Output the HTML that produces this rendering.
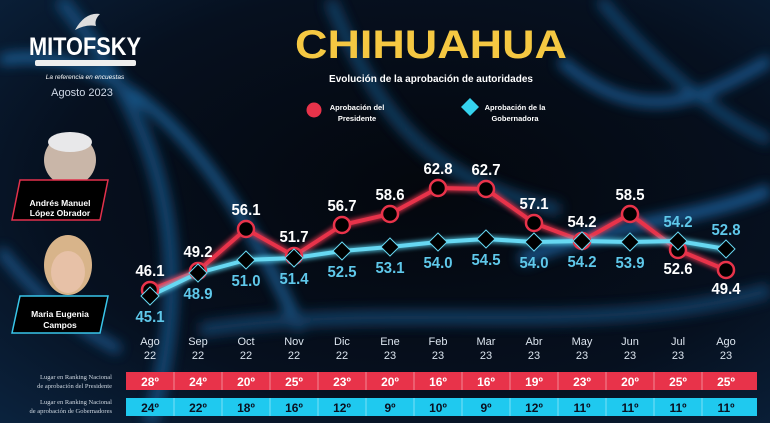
<!DOCTYPE html>
<html><head><meta charset="utf-8"><style>
html,body{margin:0;padding:0;background:#050a14;}
svg{display:block;font-family:"Liberation Sans",sans-serif;}
</style></head><body>
<svg width="770" height="423" viewBox="0 0 770 423" xmlns="http://www.w3.org/2000/svg">
<defs>
<radialGradient id="bg" cx="0.55" cy="0.45" r="0.8">
<stop offset="0" stop-color="#04070d"/><stop offset="0.6" stop-color="#06101f"/><stop offset="1" stop-color="#0b2440"/>
</radialGradient>
<filter id="blur"><feGaussianBlur stdDeviation="6"/></filter>
<filter id="glow"><feGaussianBlur stdDeviation="2"/></filter>
</defs>
<rect width="770" height="423" fill="url(#bg)"/>
<g filter="url(#blur)" fill="none" opacity="0.9">
<path d="M0 60 C120 40 220 150 300 330" stroke="#1f67a3" stroke-width="10"/>
<path d="M60 0 C160 120 200 250 150 423" stroke="#17507f" stroke-width="14"/>
<path d="M330 0 C380 120 430 180 560 210" stroke="#154670" stroke-width="12"/>
<path d="M560 60 C640 130 700 100 770 60" stroke="#1d64a0" stroke-width="10"/>
<path d="M520 260 C620 220 700 220 770 190" stroke="#1d64a0" stroke-width="12"/>
<path d="M200 330 C400 300 600 340 770 290" stroke="#15426a" stroke-width="14"/>
<path d="M0 250 C40 300 80 330 120 350" stroke="#1d5a90" stroke-width="10"/>
<path d="M600 0 C650 60 720 120 770 140" stroke="#17507f" stroke-width="10"/>
</g>
<!-- logo -->
<text x="85" y="55" text-anchor="middle" fill="#fff" font-size="25" font-weight="bold" textLength="112" lengthAdjust="spacingAndGlyphs">MITOFSKY</text>
<path d="M75 30 q10 -18 25 -16 q-6 6 -4 12 q-10 -2 -21 4z" fill="#ddd"/>
<rect x="35" y="60" width="101" height="6" rx="2" fill="#eee"/>
<text x="85" y="79" text-anchor="middle" fill="#fff" font-size="6.5" font-style="italic">La referencia en encuestas</text>
<text x="82" y="96" text-anchor="middle" fill="#cfd8e6" font-size="11">Agosto 2023</text>
<!-- title -->
<text x="431" y="58" text-anchor="middle" fill="#f5c842" font-size="40" font-weight="bold" textLength="272" lengthAdjust="spacingAndGlyphs">CHIHUAHUA</text>
<text x="431" y="82" text-anchor="middle" fill="#fff" font-size="10" font-weight="bold">Evolución de la aprobación de autoridades</text>
<circle cx="314" cy="110" r="7.5" fill="#e8334a"/>
<text x="357" y="110" text-anchor="middle" fill="#fff" font-size="7.5" font-weight="bold">Aprobación del</text>
<text x="357" y="121" text-anchor="middle" fill="#fff" font-size="7.5" font-weight="bold">Presidente</text>
<polygon points="470,98 479,107 470,116 461,107" fill="#35d3ee"/>
<text x="515" y="110" text-anchor="middle" fill="#fff" font-size="7.5" font-weight="bold">Aprobación de la</text>
<text x="515" y="121" text-anchor="middle" fill="#fff" font-size="7.5" font-weight="bold">Gobernadora</text>
<!-- photos -->
<circle cx="70" cy="160" r="26" fill="#c9b6a8"/>
<ellipse cx="70" cy="142" rx="22" ry="10" fill="#e8e8ea"/>
<path d="M40 190 q30 -20 60 0 v10 h-60z" fill="#2a2e38"/>
<polygon points="20,180 108,180 100,220 12,220" fill="#000" stroke="#e2314c" stroke-width="1.5"/>
<text x="60" y="206" text-anchor="middle" fill="#fff" font-size="8.5" font-weight="bold">Andrés Manuel</text>
<text x="60" y="216" text-anchor="middle" fill="#fff" font-size="8.5" font-weight="bold">López Obrador</text>
<ellipse cx="68" cy="265" rx="24" ry="30" fill="#d8b48a"/>
<ellipse cx="68" cy="272" rx="17" ry="21" fill="#e7c1a7"/>
<path d="M40 305 q28 -18 56 0 v5 h-56z" fill="#e24a2e"/>
<polygon points="20,296 108,296 100,333 12,333" fill="#000" stroke="#39c6ea" stroke-width="1.5"/>
<text x="60" y="317" text-anchor="middle" fill="#fff" font-size="8.5" font-weight="bold">Maria Eugenia</text>
<text x="60" y="328" text-anchor="middle" fill="#fff" font-size="8.5" font-weight="bold">Campos</text>
<!-- lines -->
<g fill="none" stroke-linejoin="round">
<polyline filter="url(#glow)" stroke="#ff3a55" stroke-width="7" opacity="0.7" points="150,290 198,271 246,229 294,256 342,225 390,214 438,188 486,189 534,223 582,241 630,214 678,250 726,270"/>
<polyline stroke="#e8334a" stroke-width="4" points="150,290 198,271 246,229 294,256 342,225 390,214 438,188 486,189 534,223 582,241 630,214 678,250 726,270"/>
<polyline filter="url(#glow)" stroke="#5be0ff" stroke-width="7" opacity="0.7" points="150,296 198,273 246,260 294,258 342,251 390,247 438,242 486,239 534,242 582,241 630,242 678,241 726,249"/>
<polyline stroke="#67d8f2" stroke-width="4" points="150,296 198,273 246,260 294,258 342,251 390,247 438,242 486,239 534,242 582,241 630,242 678,241 726,249"/>
</g>
<g fill="#000" stroke="#e8334a" stroke-width="2.5">
<circle cx="150" cy="290" r="8"/><circle cx="198" cy="271" r="8"/><circle cx="246" cy="229" r="8"/><circle cx="294" cy="256" r="8"/><circle cx="342" cy="225" r="8"/><circle cx="390" cy="214" r="8"/><circle cx="438" cy="188" r="8"/><circle cx="486" cy="189" r="8"/><circle cx="534" cy="223" r="8"/><circle cx="582" cy="241" r="8"/><circle cx="630" cy="214" r="8"/><circle cx="678" cy="250" r="8"/><circle cx="726" cy="270" r="8"/>
</g>
<g fill="#000" stroke="#67d8f2" stroke-width="1">
<polygon points="150,287 159,296 150,305 141,296"/><polygon points="198,264 207,273 198,282 189,273"/><polygon points="246,251 255,260 246,269 237,260"/><polygon points="294,249 303,258 294,267 285,258"/><polygon points="342,242 351,251 342,260 333,251"/><polygon points="390,238 399,247 390,256 381,247"/><polygon points="438,233 447,242 438,251 429,242"/><polygon points="486,230 495,239 486,248 477,239"/><polygon points="534,233 543,242 534,251 525,242"/><polygon points="582,232 591,241 582,250 573,241"/><polygon points="630,233 639,242 630,251 621,242"/><polygon points="678,232 687,241 678,250 669,241"/><polygon points="726,240 735,249 726,258 717,249"/>
</g>
<g fill="#fff" font-size="16" font-weight="bold" text-anchor="middle" transform="scale(1,1)">
<text x="150" y="276" textLength="29" lengthAdjust="spacingAndGlyphs">46.1</text><text x="198" y="257" textLength="29" lengthAdjust="spacingAndGlyphs">49.2</text><text x="246" y="215" textLength="29" lengthAdjust="spacingAndGlyphs">56.1</text><text x="294" y="242" textLength="29" lengthAdjust="spacingAndGlyphs">51.7</text><text x="342" y="211" textLength="29" lengthAdjust="spacingAndGlyphs">56.7</text><text x="390" y="200" textLength="29" lengthAdjust="spacingAndGlyphs">58.6</text><text x="438" y="174" textLength="29" lengthAdjust="spacingAndGlyphs">62.8</text><text x="486" y="175" textLength="29" lengthAdjust="spacingAndGlyphs">62.7</text><text x="534" y="209" textLength="29" lengthAdjust="spacingAndGlyphs">57.1</text><text x="582" y="227" textLength="29" lengthAdjust="spacingAndGlyphs">54.2</text><text x="630" y="200" textLength="29" lengthAdjust="spacingAndGlyphs">58.5</text><text x="678" y="274" textLength="29" lengthAdjust="spacingAndGlyphs">52.6</text><text x="726" y="294" textLength="29" lengthAdjust="spacingAndGlyphs">49.4</text>
</g>
<g fill="#5fc8ea" font-size="16" font-weight="bold" text-anchor="middle">
<text x="150" y="322" textLength="29" lengthAdjust="spacingAndGlyphs">45.1</text><text x="198" y="299" textLength="29" lengthAdjust="spacingAndGlyphs">48.9</text><text x="246" y="286" textLength="29" lengthAdjust="spacingAndGlyphs">51.0</text><text x="294" y="284" textLength="29" lengthAdjust="spacingAndGlyphs">51.4</text><text x="342" y="277" textLength="29" lengthAdjust="spacingAndGlyphs">52.5</text><text x="390" y="273" textLength="29" lengthAdjust="spacingAndGlyphs">53.1</text><text x="438" y="268" textLength="29" lengthAdjust="spacingAndGlyphs">54.0</text><text x="486" y="265" textLength="29" lengthAdjust="spacingAndGlyphs">54.5</text><text x="534" y="268" textLength="29" lengthAdjust="spacingAndGlyphs">54.0</text><text x="582" y="267" textLength="29" lengthAdjust="spacingAndGlyphs">54.2</text><text x="630" y="268" textLength="29" lengthAdjust="spacingAndGlyphs">53.9</text><text x="678" y="227" textLength="29" lengthAdjust="spacingAndGlyphs">54.2</text><text x="726" y="235" textLength="29" lengthAdjust="spacingAndGlyphs">52.8</text>
</g>
<!-- x labels -->
<g fill="#dbe4ee" font-size="11" text-anchor="middle">
<text x="150" y="345">Ago</text><text x="198" y="345">Sep</text><text x="246" y="345">Oct</text><text x="294" y="345">Nov</text><text x="342" y="345">Dic</text><text x="390" y="345">Ene</text><text x="438" y="345">Feb</text><text x="486" y="345">Mar</text><text x="534" y="345">Abr</text><text x="582" y="345">May</text><text x="630" y="345">Jun</text><text x="678" y="345">Jul</text><text x="726" y="345">Ago</text>
<text x="150" y="359">22</text><text x="198" y="359">22</text><text x="246" y="359">22</text><text x="294" y="359">22</text><text x="342" y="359">22</text><text x="390" y="359">23</text><text x="438" y="359">23</text><text x="486" y="359">23</text><text x="534" y="359">23</text><text x="582" y="359">23</text><text x="630" y="359">23</text><text x="678" y="359">23</text><text x="726" y="359">23</text>
</g>
<g fill="#cfd8e2" font-size="6.5" font-family="Liberation Serif,serif" text-anchor="end">
<text x="112" y="379">Lugar en Ranking Nacional</text><text x="112" y="388">de aprobación del Presidente</text>
<text x="112" y="404">Lugar en Ranking Nacional</text><text x="112" y="413">de aprobación de Gobernadores</text>
</g>
<rect x="126" y="372" width="631" height="18" fill="#e8334a"/>
<rect x="126" y="398" width="631" height="18" fill="#1fc9ef"/>
<g stroke="#fff" stroke-width="0.6" opacity="0.7">
<path d="M174 372v18M222 372v18M270 372v18M318 372v18M366 372v18M414 372v18M462 372v18M510 372v18M558 372v18M606 372v18M654 372v18M702 372v18"/>
<path d="M174 398v18M222 398v18M270 398v18M318 398v18M366 398v18M414 398v18M462 398v18M510 398v18M558 398v18M606 398v18M654 398v18M702 398v18"/>
</g>
<g fill="#fff" font-size="12" font-weight="bold" text-anchor="middle">
<text x="150" y="386">28º</text><text x="198" y="386">24º</text><text x="246" y="386">20º</text><text x="294" y="386">25º</text><text x="342" y="386">23º</text><text x="390" y="386">20º</text><text x="438" y="386">16º</text><text x="486" y="386">16º</text><text x="534" y="386">19º</text><text x="582" y="386">23º</text><text x="630" y="386">20º</text><text x="678" y="386">25º</text><text x="726" y="386">25º</text>
</g>
<g fill="#0a1020" font-size="12" font-weight="bold" text-anchor="middle">
<text x="150" y="412">24º</text><text x="198" y="412">22º</text><text x="246" y="412">18º</text><text x="294" y="412">16º</text><text x="342" y="412">12º</text><text x="390" y="412">9º</text><text x="438" y="412">10º</text><text x="486" y="412">9º</text><text x="534" y="412">12º</text><text x="582" y="412">11º</text><text x="630" y="412">11º</text><text x="678" y="412">11º</text><text x="726" y="412">11º</text>
</g>
</svg>
</body></html>
